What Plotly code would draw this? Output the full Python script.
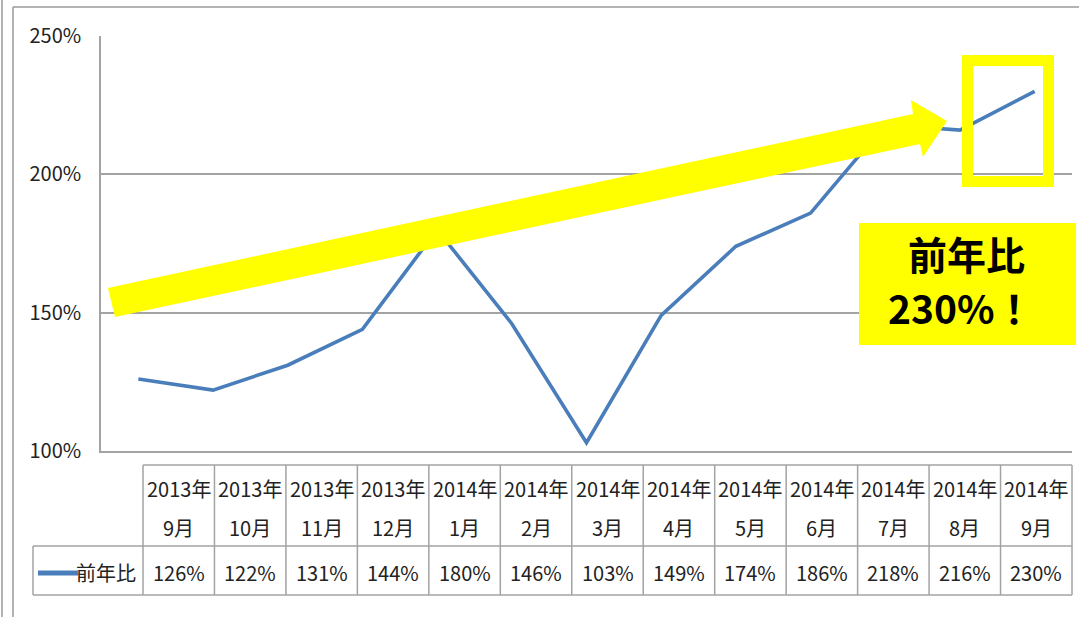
import plotly.graph_objects as go

# ---- data ----
years = ["2013年", "2013年", "2013年", "2013年", "2014年", "2014年", "2014年",
         "2014年", "2014年", "2014年", "2014年", "2014年", "2014年"]
months = ["9月", "10月", "11月", "12月", "1月", "2月", "3月",
          "4月", "5月", "6月", "7月", "8月", "9月"]
yoy = [126, 122, 131, 144, 180, 146, 103, 149, 174, 186, 218, 216, 230]
series_name = "前年比"
y_ticks = [100, 150, 200, 250]
y_ticktext = ["100%", "150%", "200%", "250%"]
callout_lines = ["前年比", "230%！"]

categories = [y + m for y, m in zip(years, months)]

W, H = 1079, 617
L, R, T, B = 101, 1072, 36, 451  # plot area in pixels

def px(x):
    return (x - L) / (R - L)

def py(y):
    return (B - y) / (B - T)

FONT = "Noto Sans CJK JP"
TXT = "#222222"
GRID = "#a3a3a3"
BLUE = "#4a7ebb"
YEL = "#ffff00"
FS = 20

fig = go.Figure()
fig.add_trace(go.Scatter(
    x=categories, y=yoy, mode="lines", name=series_name,
    line=dict(color=BLUE, width=3.6), showlegend=False, hoverinfo="x+y"))

shapes = []
annotations = []

def txt(x, y, text, size=FS, color=TXT, xanchor="center", bold=False):
    annotations.append(dict(
        x=px(x), y=py(y), xref="paper", yref="paper",
        xanchor=xanchor, yanchor="middle", showarrow=False,
        text=f"<b>{text}</b>" if bold else text,
        font=dict(family=FONT, size=size, color=color)))

def hline(x0, x1, y, color=GRID, width=1.5):
    shapes.append(dict(type="line", xref="paper", yref="paper",
                       x0=px(x0), x1=px(x1), y0=py(y), y1=py(y),
                       line=dict(color=color, width=width)))

def vline(x, y0, y1, color=GRID, width=1.5):
    shapes.append(dict(type="line", xref="paper", yref="paper",
                       x0=px(x), x1=px(x), y0=py(y0), y1=py(y1),
                       line=dict(color=color, width=width)))

# outer frame lines
vline(2, 0, 617, color="#9a9a9a")
hline(13, 1079, 7, color="#9a9a9a")
vline(13, 7, 617, color="#9a9a9a")

# data table
n = len(categories)
col_l, col_r = 143, 1072
cw = (col_r - col_l) / n
t_top, t_mid, t_bot, leg_l = 465, 546, 595, 33
hline(col_l, col_r, t_top)
hline(leg_l, col_r, t_mid)
hline(leg_l, col_r, t_bot)
vline(leg_l, t_mid, t_bot)
for i in range(n + 1):
    vline(col_l + cw * i, t_top, t_bot)
for i in range(n):
    cx = col_l + cw * (i + 0.5)
    txt(cx, 488, years[i])
    txt(cx, 527, months[i])
    txt(cx, 572, f"{yoy[i]}%")
# legend key in table
hline(38, 78, 573, color=BLUE, width=5)
txt(138, 572, series_name, xanchor="right")

# yellow arrow
arrow_pts = [(108, 288), (913, 114), (911, 100), (947, 121),
             (923, 157), (920, 144), (115, 317)]
path = "M " + " L ".join(f"{px(a):.5f},{py(b):.5f}" for a, b in arrow_pts) + " Z"
shapes.append(dict(type="path", xref="paper", yref="paper", path=path,
                   fillcolor=YEL, line=dict(width=0), layer="above"))

# highlight box around last point
shapes.append(dict(type="rect", xref="paper", yref="paper",
                   x0=px(967.5), x1=px(1048.5), y0=py(60.5), y1=py(181.5),
                   line=dict(color=YEL, width=11), fillcolor="rgba(0,0,0,0)",
                   layer="above"))

# callout
shapes.append(dict(type="rect", xref="paper", yref="paper",
                   x0=px(859), x1=px(1076), y0=py(223), y1=py(345),
                   fillcolor=YEL, line=dict(width=0), layer="above"))
txt(966, 253, callout_lines[0], size=39, color="#000000", bold=True)
txt(961, 307, callout_lines[1], size=39, color="#000000", bold=True)

fig.update_layout(
    width=W, height=H,
    margin=dict(l=L, r=W - R, t=T, b=H - B, pad=0, autoexpand=False),
    paper_bgcolor="white", plot_bgcolor="white",
    shapes=shapes, annotations=annotations,
    xaxis=dict(type="category", range=[-0.5, n - 0.5], showticklabels=False,
               showgrid=False, showline=True, linecolor=GRID, linewidth=1.5,
               ticks="", zeroline=False, fixedrange=True, automargin=False),
    yaxis=dict(range=[100, 250], tickvals=y_ticks, ticktext=y_ticktext,
               showgrid=True, gridcolor=GRID, gridwidth=1.5,
               showline=True, linecolor=GRID, linewidth=1.5, ticks="",
               zeroline=False, ticklabelstandoff=14, automargin=False,
               tickfont=dict(family=FONT, size=FS, color=TXT), fixedrange=True),
    showlegend=False,
)

fig.write_html("out.html", config={"displayModeBar": False},
               post_script="document.body.style.margin='0';document.body.style.padding='0';")
